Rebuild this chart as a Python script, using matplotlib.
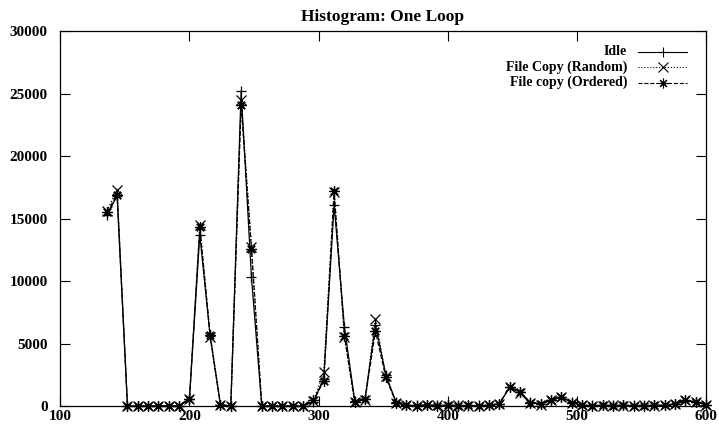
import matplotlib
matplotlib.use('Agg')
import matplotlib.pyplot as plt

# Histogram bins (one loop), counts per run type
bins = [136, 144, 152, 160, 168, 176, 184, 192, 200, 208,
        216, 224, 232, 240, 248, 256, 264, 272, 280, 288,
        296, 304, 312, 320, 328, 336, 344, 352, 360, 368,
        376, 384, 392, 400, 408, 416, 424, 432, 440, 448,
        456, 464, 472, 480, 488, 496, 504, 512, 520, 528,
        536, 544, 552, 560, 568, 576, 584, 592, 600]

idle = [15300, 16800, 0, 0, 0, 0, 0, 0, 600, 13700,
        5600, 100, 0, 25200, 10300, 0, 0, 0, 0, 0,
        350, 2200, 16100, 6300, 400, 600, 6500, 2500, 300, 50,
        50, 100, 50, 50, 50, 0, 50, 50, 200, 1500,
        1100, 300, 150, 450, 700, 300, 50, 50, 50, 50,
        50, 50, 50, 50, 50, 150, 400, 350, 100]

file_random = [15600, 17300, 0, 0, 0, 0, 0, 0, 600, 14500,
               5500, 100, 0, 24500, 12700, 0, 0, 0, 0, 0,
               400, 2700, 17100, 5500, 300, 500, 7000, 2400, 250, 50,
               0, 50, 50, 0, 50, 0, 0, 50, 200, 1500,
               1050, 250, 100, 500, 700, 250, 50, 0, 0, 50,
               0, 0, 50, 0, 50, 200, 450, 350, 100]

file_ordered = [15500, 16900, 0, 0, 0, 0, 0, 0, 600, 14300,
                5700, 100, 0, 24100, 12600, 0, 0, 0, 0, 0,
                450, 2000, 17200, 5600, 300, 550, 6000, 2300, 250, 50,
                0, 50, 0, 50, 0, 50, 0, 50, 200, 1550,
                1100, 270, 200, 480, 750, 270, 50, 0, 50, 0,
                50, 0, 0, 50, 50, 200, 450, 320, 100]

plt.rcParams['font.family'] = ['Liberation Serif', 'DejaVu Serif']
plt.rcParams['font.weight'] = 'bold'

fig = plt.figure(figsize=(7.19, 4.37), dpi=100)
ax = fig.add_axes([0.0839, 0.0709, 0.8981, 0.8581])

STAR = (8, 2, 0)  # gnuplot-style asterisk: + and x combined
series = [
    ('Idle', idle, '-', '+'),
    ('File Copy (Random)', file_random, ':', 'x'),
    ('File copy (Ordered)', file_ordered, '--', STAR),
]

for label, vals, ls, mk in series:
    ax.plot(bins, vals, color='black', linestyle=ls, linewidth=0.9,
            marker=mk, markersize=7.5, markeredgewidth=0.9,
            markerfacecolor='none', markeredgecolor='black', clip_on=False)

ax.set_xlim(100, 600)
ax.set_ylim(0, 30000)
ax.set_xticks([100, 200, 300, 400, 500, 600])
ax.set_yticks([0, 5000, 10000, 15000, 20000, 25000, 30000])
ax.tick_params(direction='in', length=7, width=0.8, top=True, right=True,
               labelsize=11)
ax.tick_params(axis='y', pad=9)
ax.tick_params(axis='x', pad=3)
for sp in ax.spines.values():
    sp.set_linewidth(0.9)

fig.text(0.532, 0.962, 'Histogram: One Loop', ha='center', va='center',
         fontsize=12.5, fontweight='bold')

# key in the top-right corner, text right-aligned and sample on the right
rows_y = [0.9448, 0.9032, 0.8621]
for (label, vals, ls, mk), y in zip(series, rows_y):
    ax.text(0.8777, y, label, transform=ax.transAxes, ha='right',
            va='center', fontsize=10, fontweight='bold')
    ax.plot([0.8946, 0.9326, 0.9706], [y, y, y], transform=ax.transAxes,
            color='black', linestyle=ls, linewidth=0.8, marker=mk,
            markevery=[1], markersize=7, markeredgewidth=0.8,
            markerfacecolor='none', clip_on=False)

fig.savefig('out.png', dpi=100)
